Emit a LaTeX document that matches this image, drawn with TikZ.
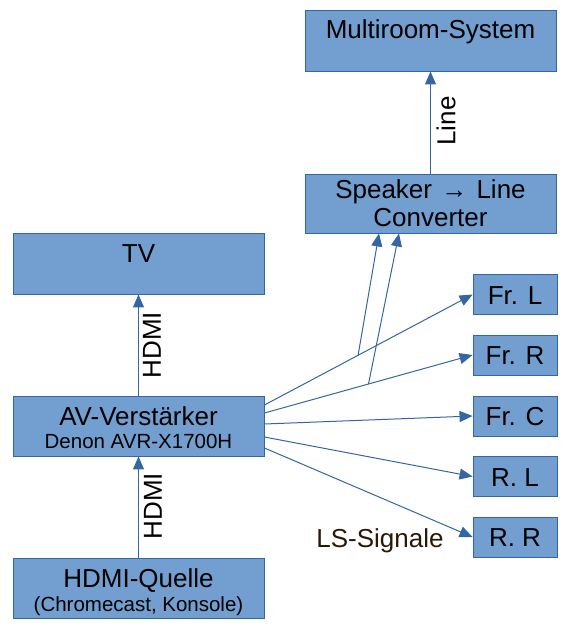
\documentclass[tikz,border=0pt]{standalone}
\usepackage{fontspec}
\setmainfont{Liberation Sans}
\usetikzlibrary{arrows.meta}
\definecolor{boxfill}{HTML}{729FCF}
\definecolor{boxline}{HTML}{3465A4}
\definecolor{lsbrown}{HTML}{2A1805}
\begin{document}
\begin{tikzpicture}[x=1pt,y=-1pt,
  box/.style={draw=boxline, fill=boxfill, line width=0.9pt, inner sep=0pt},
  wide/.style={box, minimum width=251pt},
  small/.style={box, minimum width=84pt, minimum height=40pt},
  txt/.style={font=\fontsize{26}{30}\selectfont, anchor=base, inner sep=0pt},
  sub/.style={font=\fontsize{20.5}{24}\selectfont, anchor=base, inner sep=0pt},
  lbl/.style={font=\fontsize{26}{30}\selectfont, inner sep=0pt, rotate=90},
  conn/.style={draw=boxline, line width=1pt, -{Triangle[length=13pt,width=11pt]}}]
\useasboundingbox (0,0) rectangle (576,635);
% boxes
\node[wide, minimum height=61pt] (multi) at (430.5,40.5) {};
\node[wide, minimum height=59pt] (conv) at (430.5,203.5) {};
\node[wide, minimum height=61pt] (tv) at (138.5,263.5) {};
\node[wide, minimum height=60pt] (av) at (138.5,426) {};
\node[wide, minimum height=60pt] (src) at (138.5,588) {};
\node[small] (frl) at (515,294.5) {};
\node[small] (frr) at (515,355) {};
\node[small] (frc) at (515,416) {};
\node[small] (rl) at (515,476.5) {};
\node[small] (rr) at (515,537) {};
% texts
\node[txt] (multit) at (430.5,38) {Multiroom-System};
\node[txt] (convt1) at (430.5,198) {Speaker\hspace{2pt} → \hspace{2pt}Line};
\node[txt] (convt2) at (430.5,226) {Converter};
\node[txt] (tvt) at (138.5,262) {TV};
\node[txt] (avt1) at (138.5,425) {AV-Verstärker};
\node[sub] (avt2) at (138.5,448) {Denon AVR-X1700H};
\node[txt] (srct1) at (138.5,587) {HDMI-Quelle};
\node[sub] (srct2) at (138.5,611) {(Chromecast, Konsole)};
\node[txt] (frlt) at (515,304) {Fr. L};
\node[txt] (frrt) at (515,364.5) {Fr. R};
\node[txt] (frct) at (515,425.5) {Fr. C};
\node[txt] (rlt) at (515,486) {R. L};
\node[txt] (rrt) at (515,546.5) {R. R};
\node[txt, text=lsbrown] (ls) at (380,547) {LS-Signale};
% vertical connectors
\draw[conn] (conv.north) -- (multi.south);
\node[lbl] (linel) at (446,121) {Line};
\draw[conn] (av.north) -- (tv.south);
\node[lbl] (hdmi1) at (152,345) {HDMI};
\draw[conn] (src.north) -- (av.south);
\node[lbl] (hdmi2) at (153,506) {HDMI};
% speaker connectors
\draw[conn] ([yshift=21pt]av.east) -- coordinate[pos=0.45] (j1) (frl.west);
\draw[conn] ([yshift=13pt]av.east) -- coordinate[pos=0.50] (j2) (frr.west);
\draw[conn] ([yshift=2pt]av.east) -- (frc.west);
\draw[conn] ([yshift=-11pt]av.east) -- (rl.west);
\draw[conn] ([yshift=-22pt]av.east) -- (rr.west);
\draw[conn] (j1) -- ([xshift=-51.5pt]conv.south);
\draw[conn] (j2) -- ([xshift=-31.5pt]conv.south);
\end{tikzpicture}
\end{document}
